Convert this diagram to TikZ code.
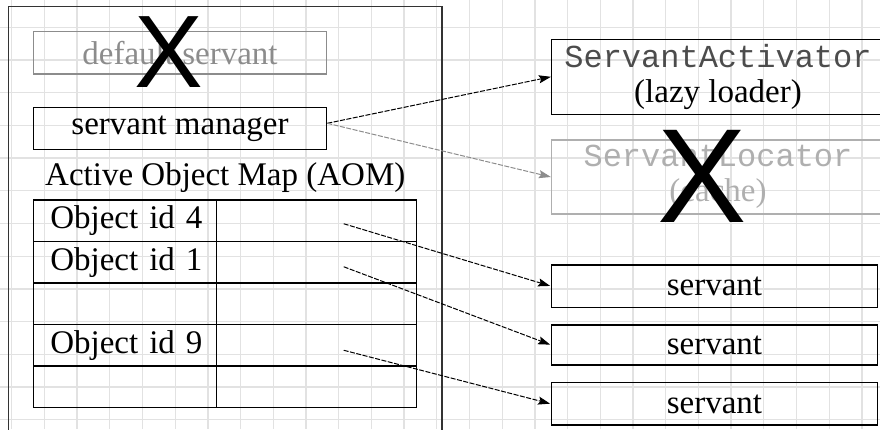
\documentclass[tikz,border=0pt]{standalone}
\usepackage{fontspec}
\setmainfont{Liberation Serif}
\setmonofont{Liberation Mono}
\newfontfamily\crossfont{Liberation Sans}
\usetikzlibrary{positioning,arrows.meta}

\definecolor{gridgray}{RGB}{226,226,226}
\definecolor{offgray}{RGB}{140,140,140}
\definecolor{palegray}{RGB}{175,175,175}

\begin{document}
\begin{tikzpicture}[x=1pt,y=-1pt,
    box/.style={draw,line width=1.2pt,inner sep=0pt,align=center,
      font=\fontsize{33}{35}\selectfont},
    keycell/.style={draw,line width=1.2pt,minimum width=183.4pt,minimum height=41.5pt,
      inner xsep=17pt,inner ysep=0pt,text width=149.4pt,align=left,
      font=\fontsize{33}{35}\selectfont},
    valcell/.style={draw,line width=1.2pt,minimum width=200pt,minimum height=41.5pt},
    cross/.style={inner sep=0pt,font=\crossfont},
    link/.style={-{Stealth[length=12pt,width=8pt,inset=2pt]},line width=1pt,
      dash pattern=on 5pt off 1.5pt}]
  \useasboundingbox (0,0) rectangle (880,429);
  \clip (0,0) rectangle (880,429);
  % background grid
  \foreach \i in {0,...,26}
    \draw[gridgray,line width=1.3pt] ({11.7+32.7*\i},0) -- ++(0,429);
  \foreach \j in {0,...,12}
    \draw[gridgray,line width=1.3pt] (0,{27.3+32.7*\j}) -- ++(880,0);

  % the POA
  \draw[line width=1.2pt,black!80] (8.5,6.5) rectangle (442,450);
  \node[box,draw=offgray,text=offgray,minimum width=293.4pt,minimum height=42.3pt]
    (dflt) at (180,52.8) {default servant};
  \node[box,minimum width=293.4pt,minimum height=42pt]
    (mgr) at (180,128.3) {servant manager};
  \node[anchor=base west,inner sep=0pt,font=\fontsize{33}{35}\selectfont]
    (aom) at (45,185) {Active Object Map (AOM)};

  % the map
  \foreach \txt [count=\i from 0] in {Object id 4,Object id 1,{},Object id 9,{}} {
    \node[keycell] (key\i) at (125,{220.75+41.5*\i}) {\mbox{\txt}};
    \node[valcell,right=-1.2pt of key\i] (val\i) {};
  }

  % managers
  \node[box,minimum width=333pt,minimum height=75pt] (act) at (718,76.8)
    {{\ttfamily\fontsize{32}{35}\selectfont\color{black!70}ServantActivator}\\(lazy loader)};
  \node[box,draw=palegray,text=palegray,minimum width=333pt,minimum height=74pt]
    (loc) at (718,177)
    {{\ttfamily\fontsize{32}{35}\selectfont ServantLocator}\\(cache)};

  % servants
  \node[box,minimum width=325.6pt,minimum height=42.3pt] (sv1) at (714.5,286.2) {servant};
  \node[box,minimum width=325.6pt,minimum height=40pt] (sv2) at (714.5,345) {servant};
  \node[box,minimum width=325.6pt,minimum height=42.3pt] (sv3) at (714.5,403.9) {servant};

  % crossed out
  \node[cross,font=\crossfont\fontsize{103}{103}\selectfont] (nodflt) at (168.5,52) {X};
  \node[cross,font=\crossfont\fontsize{134}{134}\selectfont] (noloc) at (702.5,176) {X};

  \draw[link] ([yshift=5pt]mgr.east) -- (act.west);
  \draw[link,offgray] ([yshift=5pt]mgr.east) -- (loc.west);
  \draw[link,shorten >=1pt] ([xshift=27pt,yshift=-3pt]val0.center) -- (sv1.west);
  \draw[link,shorten >=1pt] ([xshift=27pt,yshift=-4.5pt]val1.center) -- (sv2.west);
  \draw[link,shorten >=1pt] ([xshift=27pt,yshift=-5pt]val3.center) -- (sv3.west);
\end{tikzpicture}
\end{document}
